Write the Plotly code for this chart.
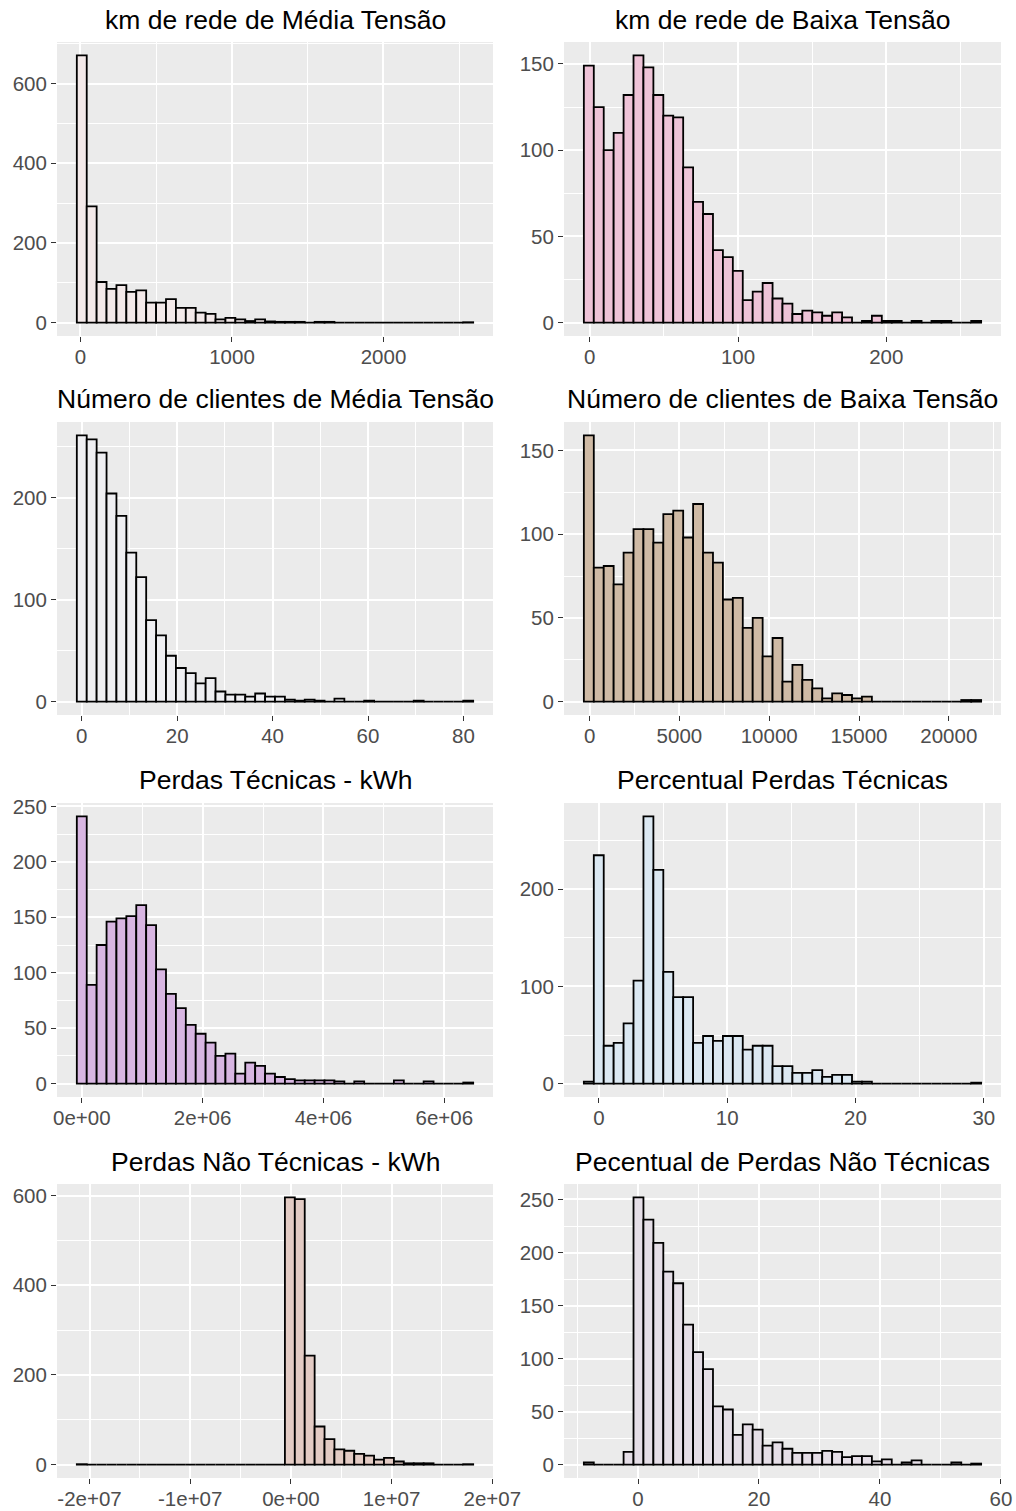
import plotly.graph_objects as go

# ---------------- data (histogram counts, 40 bins each) ----------------
titles = [
    "km de rede de Média Tensão",
    "km de rede de Baixa Tensão",
    "Número de clientes de Média Tensão",
    "Número de clientes de Baixa Tensão",
    "Perdas Técnicas - kWh",
    "Percentual Perdas Técnicas",
    "Perdas Não Técnicas - kWh",
    "Pecentual de Perdas Não Técnicas",
]

# first bin left edge and bin width for each panel
bin_start = [-24, -4.0, -1.04, -320, -82000, -1.17, -21260000, -8.95]
bin_width = [65.4, 6.7, 2.077, 553, 164000, 0.774, 984000, 1.642]

counts_km_mt = [671, 292, 102, 85, 94, 77, 81, 50, 50, 59, 37, 37, 25, 22, 8, 12, 8, 4, 8, 3,
                2, 2, 2, 0, 2, 2, 0, 0, 0, 0, 0, 0, 0, 0, 0, 0, 0, 0, 0, 1]
counts_km_bt = [149, 125, 100, 110, 132, 155, 148, 132, 120, 119, 90, 70, 63, 42, 38, 30, 13, 18, 23, 14,
                11, 5, 7, 6, 4, 6, 3, 0, 1, 4, 1, 1, 0, 1, 0, 1, 1, 0, 0, 1]
counts_cli_mt = [261, 257, 244, 204, 182, 146, 122, 80, 65, 45, 33, 28, 18, 23, 10, 7, 7, 5, 8, 5,
                 5, 2, 1, 2, 1, 0, 3, 0, 0, 1, 0, 0, 0, 0, 1, 0, 0, 0, 0, 1]
counts_cli_bt = [159, 80, 81, 70, 89, 103, 103, 95, 112, 114, 98, 118, 89, 83, 61, 62, 44, 50, 27, 38,
                 12, 22, 13, 8, 2, 5, 4, 2, 3, 0, 0, 0, 0, 0, 0, 0, 0, 0, 1, 1]
counts_pt_kwh = [241, 89, 125, 146, 149, 151, 161, 143, 103, 81, 68, 53, 45, 37, 25, 27, 9, 19, 16, 9,
                 6, 4, 3, 3, 3, 3, 2, 0, 2, 0, 0, 0, 3, 0, 0, 2, 0, 0, 0, 1]
counts_pt_pct = [2, 235, 39, 42, 62, 106, 275, 220, 115, 89, 89, 42, 49, 44, 49, 49, 35, 39, 39, 18,
                 18, 11, 11, 14, 7, 9, 9, 2, 2, 0, 0, 0, 0, 0, 0, 0, 0, 0, 0, 1]
counts_pnt_kwh = [1, 0, 0, 0, 0, 0, 0, 0, 0, 0, 0, 0, 0, 0, 0, 0, 0, 0, 0, 0,
                  0, 596, 592, 243, 85, 57, 34, 31, 24, 20, 11, 15, 7, 3, 3, 3, 0, 0, 0, 1]
counts_pnt_pct = [2, 0, 0, 0, 12, 252, 231, 209, 182, 171, 132, 106, 90, 55, 52, 28, 38, 33, 18, 21,
                  15, 11, 11, 11, 13, 12, 7, 8, 8, 3, 5, 0, 2, 4, 0, 0, 0, 2, 0, 1]

all_counts = [counts_km_mt, counts_km_bt, counts_cli_mt, counts_cli_bt,
              counts_pt_kwh, counts_pt_pct, counts_pnt_kwh, counts_pnt_pct]

fill_colors = ["#F3E9E9", "#EEC3D7", "#EFEFF2", "#CFBAA5",
               "#D8B6E2", "#DBE8F2", "#E3CBC4", "#E5DEE7"]

# tick values / labels
x_ticks = [[0, 1000, 2000], [0, 100, 200], [0, 20, 40, 60, 80], [0, 5000, 10000, 15000, 20000],
           [0, 2e6, 4e6, 6e6], [0, 10, 20, 30], [-2e7, -1e7, 0, 1e7, 2e7], [0, 20, 40, 60]]
x_labels = [["0", "1000", "2000"], ["0", "100", "200"], ["0", "20", "40", "60", "80"],
            ["0", "5000", "10000", "15000", "20000"],
            ["0e+00", "2e+06", "4e+06", "6e+06"], ["0", "10", "20", "30"],
            ["-2e+07", "-1e+07", "0e+00", "1e+07", "2e+07"], ["0", "20", "40", "60"]]
x_minor = [500, 50, 10, 2500, 1e6, 5, 5e6, 10]
y_ticks = [[0, 200, 400, 600], [0, 50, 100, 150], [0, 100, 200], [0, 50, 100, 150],
           [0, 50, 100, 150, 200, 250], [0, 100, 200], [0, 200, 400, 600], [0, 50, 100, 150, 200, 250]]
y_minor = [100, 25, 50, 25, 25, 50, 100, 25]

# ---------------- layout geometry (pixels) ----------------
W, H = 1016, 1511
col_x = [(57, 493), (564, 1001)]
row_y = [(42, 336), (422, 715), (803, 1097), (1184, 1478)]
title_y = [20, 399, 780, 1162]
FONT = "Liberation Sans, Arial, sans-serif"

fig = go.Figure()
layout = dict(
    template="none",
    width=W, height=H, margin=dict(l=0, r=0, t=0, b=0, autoexpand=False), autosize=False,
    paper_bgcolor="white", plot_bgcolor="rgba(0,0,0,0)", showlegend=False,
    font=dict(family=FONT),
)
annotations = []
shapes = []

for i in range(8):
    r, c = divmod(i, 2)
    counts = all_counts[i]
    s, w = bin_start[i], bin_width[i]
    n = len(counts)
    centers = [s + w * (k + 0.5) for k in range(n)]
    xa = "x" if i == 0 else f"x{i+1}"
    ya = "y" if i == 0 else f"y{i+1}"
    fig.add_trace(go.Bar(
        x=centers, y=counts, width=[w] * n,
        marker=dict(color=fill_colors[i], line=dict(color="black", width=1.8)),
        xaxis=xa, yaxis=ya, hoverinfo="x+y",
    ))
    x0, x1 = col_x[c]
    y0, y1 = row_y[r]
    ymax = max(counts)
    xkey = "xaxis" if i == 0 else f"xaxis{i+1}"
    ykey = "yaxis" if i == 0 else f"yaxis{i+1}"
    common = dict(
        automargin=False,
        showline=False, zeroline=False, showgrid=True, gridcolor="white", gridwidth=1.8,
        ticks="outside", ticklen=5, tickwidth=1.4, tickcolor="#333333",
        tickfont=dict(size=20.5, color="#4D4D4D", family=FONT),
        tickmode="array",
    )
    layout[xkey] = dict(
        common, domain=[x0 / W, x1 / W], anchor=ya,
        range=[s - 2 * w, s + 42 * w],
        tickvals=x_ticks[i], ticktext=x_labels[i], ticklabelstandoff=-3,
        minor=dict(tickmode="linear", tick0=0, dtick=x_minor[i], showgrid=True,
                   gridcolor="white", gridwidth=0.9, ticks=""),
    )
    layout[ykey] = dict(
        common, domain=[1 - y1 / H, 1 - y0 / H], anchor=xa,
        range=[-0.05 * ymax, 1.05 * ymax],
        tickvals=y_ticks[i], ticktext=[str(v) for v in y_ticks[i]],
        minor=dict(tickmode="linear", tick0=0, dtick=y_minor[i], showgrid=True,
                   gridcolor="white", gridwidth=0.9, ticks=""),
    )
    shapes.append(dict(
        type="rect", xref="paper", yref="paper", layer="below",
        x0=x0 / W, x1=x1 / W, y0=1 - y1 / H, y1=1 - y0 / H,
        fillcolor="#EBEBEB", line=dict(width=0),
    ))
    annotations.append(dict(
        text=titles[i], xref="paper", yref="paper",
        x=(x0 + x1) / 2 / W, y=1 - title_y[r] / H,
        xanchor="center", yanchor="middle", showarrow=False,
        font=dict(size=26.5, color="black", family=FONT),
    ))

layout["annotations"] = annotations
layout["shapes"] = shapes
fig.update_layout(**layout)

post = ("document.body.style.margin='0';document.body.style.padding='0';"
        "document.body.style.overflow='hidden';"
        "var d=document.getElementById('{plot_id}');"
        "d.style.position='absolute';d.style.left='0px';d.style.top='0px';")
fig.write_html("out.html", config={"responsive": False, "displayModeBar": False},
               post_script=post)
